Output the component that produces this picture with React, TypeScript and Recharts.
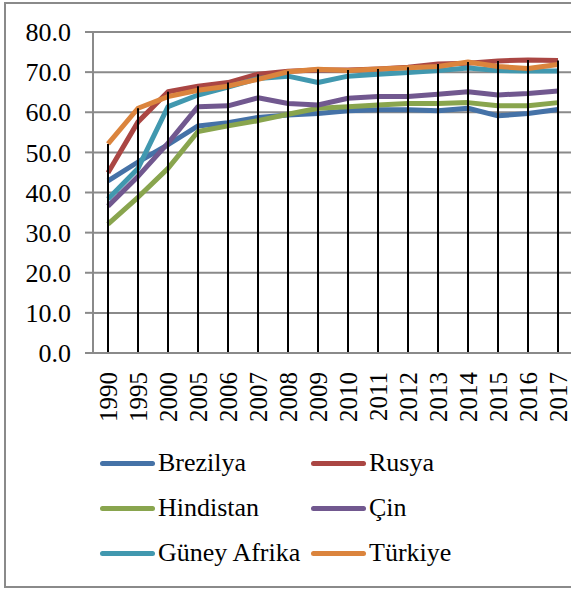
import { ComposedChart, Line, Bar, XAxis, YAxis, CartesianGrid } from "recharts"

const years = ["1990", "1995", "2000", "2005", "2006", "2007", "2008", "2009", "2010", "2011", "2012", "2013", "2014", "2015", "2016", "2017"]

const brezilya = [42.9, 47.6, 51.9, 56.6, 57.4, 58.7, 59.3, 59.7, 60.4, 60.6, 60.6, 60.4, 61.0, 59.1, 59.7, 60.7]
const rusya = [44.9, 57.6, 65.1, 66.5, 67.4, 69.5, 70.2, 70.5, 70.5, 70.8, 71.2, 72.0, 72.2, 72.8, 73.0, 72.9]
const hindistan = [32.1, 38.8, 46.0, 55.2, 56.6, 57.9, 59.5, 61.0, 61.4, 61.8, 62.2, 62.2, 62.4, 61.6, 61.6, 62.4]
const cin = [36.6, 44.0, 52.3, 61.4, 61.6, 63.6, 62.2, 61.8, 63.5, 63.9, 63.9, 64.5, 65.1, 64.3, 64.7, 65.3]
const guneyAfrika = [38.4, 46.0, 61.4, 64.3, 66.3, 68.4, 69.0, 67.4, 69.0, 69.5, 69.9, 70.4, 71.0, 70.4, 70.3, 70.3]
const turkiye = [52.1, 61.0, 63.9, 65.5, 66.5, 68.2, 70.1, 70.7, 70.4, 70.8, 71.1, 71.4, 72.5, 71.4, 70.9, 71.9]

const yTicks = [0, 10, 20, 30, 40, 50, 60, 70, 80]

const SERIES = [
  { key: "brezilya", name: "Brezilya", color: "#4572A7", values: brezilya },
  { key: "rusya", name: "Rusya", color: "#AA4643", values: rusya },
  { key: "hindistan", name: "Hindistan", color: "#89A54E", values: hindistan },
  { key: "cin", name: "Çin", color: "#71588F", values: cin },
  { key: "guneyAfrika", name: "Güney Afrika", color: "#4198AF", values: guneyAfrika },
  { key: "turkiye", name: "Türkiye", color: "#DB843D", values: turkiye },
]

const data = years.map((year, i) => {
  const row: Record<string, number | string> = { year }
  SERIES.forEach((s) => (row[s.key] = s.values[i]))
  row.max = Math.max(...SERIES.map((s) => s.values[i]))
  return row
})

const FONT = "Liberation Serif, LiberationSerif, Times New Roman, DejaVu Serif, serif"
const GRAY = "#8a8a8a"

function YearTick({ x, y, payload }: any) {
  return (
    <text
      x={x}
      y={y + 17}
      transform={`rotate(-90, ${x}, ${y + 17})`}
      textAnchor="end"
      dominantBaseline="central"
      style={{ fontFamily: FONT }}
      fontSize={25}
      fill="#000"
    >
      {payload.value}
    </text>
  )
}

// legend in two columns, like the Excel original
const legendRows = [SERIES.slice(0, 2), SERIES.slice(2, 4), SERIES.slice(4, 6)]

export default function App() {
  return (
    <div style={{ position: "absolute", left: 0, top: 0, width: 571, height: 589, overflow: "hidden", background: "#fff" }}>
      <div
        style={{
          position: "absolute",
          left: 4,
          top: 2,
          width: 640,
          height: 586,
          boxSizing: "border-box",
          border: `2px solid ${GRAY}`,
        }}
      />
      <div style={{ position: "absolute", left: 0, top: 0 }}>
        <ComposedChart width={620} height={440} data={data} margin={{ top: 32, right: 47, left: 0, bottom: 0 }}>
          <CartesianGrid vertical={false} stroke={GRAY} strokeWidth={2} />
          <XAxis
            dataKey="year"
            height={87}
            interval={0}
            tickLine={false}
            axisLine={{ stroke: GRAY, strokeWidth: 2 }}
            tickSize={0}
            tick={<YearTick />}
          />
          <YAxis
            width={93}
            domain={[0, 80]}
            ticks={yTicks}
            interval={0}
            tickFormatter={(v: number) => v.toFixed(1)}
            tick={{ fill: "#000", fontSize: 26, style: { fontFamily: FONT } }}
            tickSize={8}
            tickMargin={14}
            tickLine={{ stroke: GRAY, strokeWidth: 2 }}
            axisLine={{ stroke: GRAY, strokeWidth: 2 }}
          />
          {SERIES.map((s) => (
            <Line
              key={s.key}
              dataKey={s.key}
              name={s.name}
              stroke={s.color}
              strokeWidth={5}
              strokeLinejoin="round"
              dot={false}
              activeDot={false}
              type="linear"
              isAnimationActive={false}
            />
          ))}
          {/* drop lines */}
          <Bar dataKey="max" barSize={2} fill="#000" isAnimationActive={false} zIndex={450} />
        </ComposedChart>
      </div>
      <div style={{ position: "absolute", left: 0, top: 0, fontFamily: FONT, fontSize: 26, color: "#000" }}>
        {legendRows.map((row, r) =>
          row.map((s, c) => (
            <div
              key={s.key}
              style={{
                position: "absolute",
                left: c === 0 ? 100 : 311,
                top: 463 + r * 45 - 15,
                height: 30,
                display: "flex",
                alignItems: "center",
                whiteSpace: "nowrap",
              }}
            >
              <span
                style={{
                  display: "inline-block",
                  width: 55,
                  height: 5,
                  borderRadius: 3,
                  background: s.color,
                  marginRight: 3,
                }}
              />
              <span style={{ lineHeight: "30px" }}>{s.name}</span>
            </div>
          ))
        )}
      </div>
    </div>
  )
}
